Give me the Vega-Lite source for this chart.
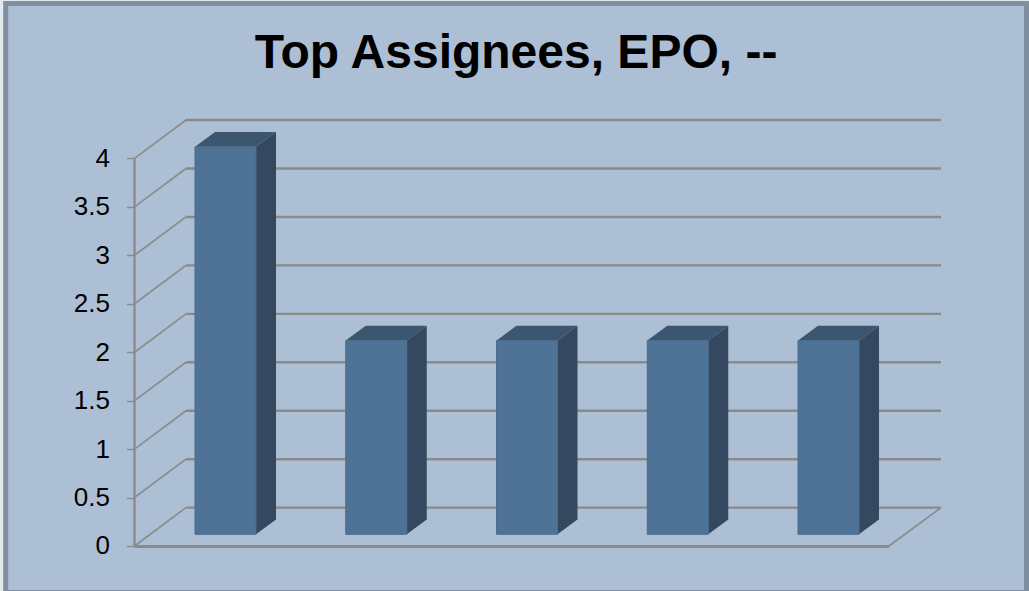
{"$schema":"https://vega.github.io/schema/vega-lite/v6.json","width":1029,"height":591,"padding":0,"autosize":"none","background":"#E4E9F0","view":{"stroke":null},
"title":{"text":"Top Assignees, EPO, --","orient":"top","anchor":"middle","offset":-78,"dx":1.5,"fontSize":48,"fontWeight":"bold","font":"Liberation Sans","color":"#000000"},
"datasets":{"bars":[{"assignee":"A","rank":1,"value":4},{"assignee":"B","rank":2,"value":2},{"assignee":"C","rank":3,"value":2},{"assignee":"D","rank":4,"value":2},{"assignee":"E","rank":5,"value":2}],
"ticks":[{"tick":0},{"tick":0.5},{"tick":1},{"tick":1.5},{"tick":2},{"tick":2.5},{"tick":3},{"tick":3.5},{"tick":4}]},
"layer":[
{"data":{"values":[{"k":1}]},"mark":{"type":"rect","fill":"#ADBFD5","stroke":"#7F8FA0","strokeWidth":5},"encoding":{"x":{"datum":-0.458,"type":"quantitative","scale":{"domain":[-0.4959,6.33],"nice":false,"zero":false},"axis":null},"x2":{"datum":6.3135},"y":{"datum":5.598,"type":"quantitative","scale":{"domain":[-0.4644,5.6347],"nice":false,"zero":false},"axis":{"values":[0,0.5,1,1.5,2,2.5,3,3.5,4],"format":".1~f","offset":-134.5,"zindex":1,"domain":false,"grid":false,"tickColor":"#8C8C8C","tickSize":8,"tickWidth":1.5,"labelFont":"Liberation Sans","labelFontSize":26,"labelColor":"#000000","labelPadding":17,"title":null}},"y2":{"datum":-0.48}}},
{"data":{"name":"ticks"},"transform":[{"calculate":"datum.tick+0.396","as":"back"}],"mark":{"type":"rule","color":"#8A8A8A","strokeWidth":2.4},"encoding":{"x":{"datum":0.738,"type":"quantitative"},"x2":{"datum":5.7463},"y":{"field":"back","type":"quantitative"}}},
{"data":{"name":"ticks"},"transform":[{"calculate":"datum.tick+0.396","as":"back"}],"mark":{"type":"rule","color":"#8C8C8C","strokeWidth":1.7},"encoding":{"x":{"datum":0.3964,"type":"quantitative"},"x2":{"datum":0.738},"y":{"field":"tick","type":"quantitative"},"y2":{"field":"back"}}},
{"data":{"values":[{"a":0}]},"transform":[{"calculate":"0.396","as":"b"}],"mark":{"type":"rule","color":"#8C8C8C","strokeWidth":1.7},"encoding":{"x":{"datum":5.4013,"type":"quantitative"},"x2":{"datum":5.7463},"y":{"field":"a","type":"quantitative"},"y2":{"field":"b"}}},
{"data":{"values":[{"a":0,"b":4}]},"mark":{"type":"rule","color":"#8C8C8C","strokeWidth":2.4},"encoding":{"x":{"datum":0.3964,"type":"quantitative"},"y":{"field":"a","type":"quantitative"},"y2":{"field":"b"}}},
{"data":{"values":[{"a":-0.005}]},"mark":{"type":"rule","color":"#8A8A8A","strokeWidth":3},"encoding":{"x":{"datum":0.3964,"type":"quantitative"},"x2":{"datum":5.4013},"y":{"field":"a","type":"quantitative"}}},
{"data":{"name":"bars"},"transform":[{"calculate":"[datum.rank+0.2023,datum.rank+0.335]","as":"xs"},{"calculate":"[datum.value+0.1207,datum.value+0.2724]","as":"yu"},{"calculate":"[0.1207,0.2724]","as":"yl"},{"flatten":["xs","yu","yl"]}],"mark":{"type":"area","orient":"vertical","color":"#34495F"},"encoding":{"x":{"field":"xs","type":"quantitative"},"y":{"field":"yu","type":"quantitative"},"y2":{"field":"yl"},"detail":{"field":"assignee"}}},
{"data":{"name":"bars"},"transform":[{"calculate":"[datum.rank-0.2023,datum.rank-0.0696,datum.rank+0.2023,datum.rank+0.335]","as":"xs"},{"calculate":"[datum.value+0.1207,datum.value+0.2724,datum.value+0.2724,datum.value+0.2724]","as":"yu"},{"calculate":"[datum.value+0.1207,datum.value+0.1207,datum.value+0.1207,datum.value+0.2724]","as":"yl"},{"flatten":["xs","yu","yl"]}],"mark":{"type":"area","orient":"vertical","color":"#3D566F"},"encoding":{"x":{"field":"xs","type":"quantitative"},"y":{"field":"yu","type":"quantitative"},"y2":{"field":"yl"},"detail":{"field":"assignee"}}},
{"data":{"name":"bars"},"transform":[{"calculate":"datum.rank-0.2023","as":"l"},{"calculate":"datum.rank+0.2023","as":"r"},{"calculate":"datum.value+0.1207","as":"t"},{"calculate":"0.1207","as":"b"}],"mark":{"type":"rect","fill":"#4F7396","stroke":"#4A6C8D","strokeWidth":1},"encoding":{"x":{"field":"l","type":"quantitative"},"x2":{"field":"r"},"y":{"field":"t","type":"quantitative"},"y2":{"field":"b"}}}
]}
